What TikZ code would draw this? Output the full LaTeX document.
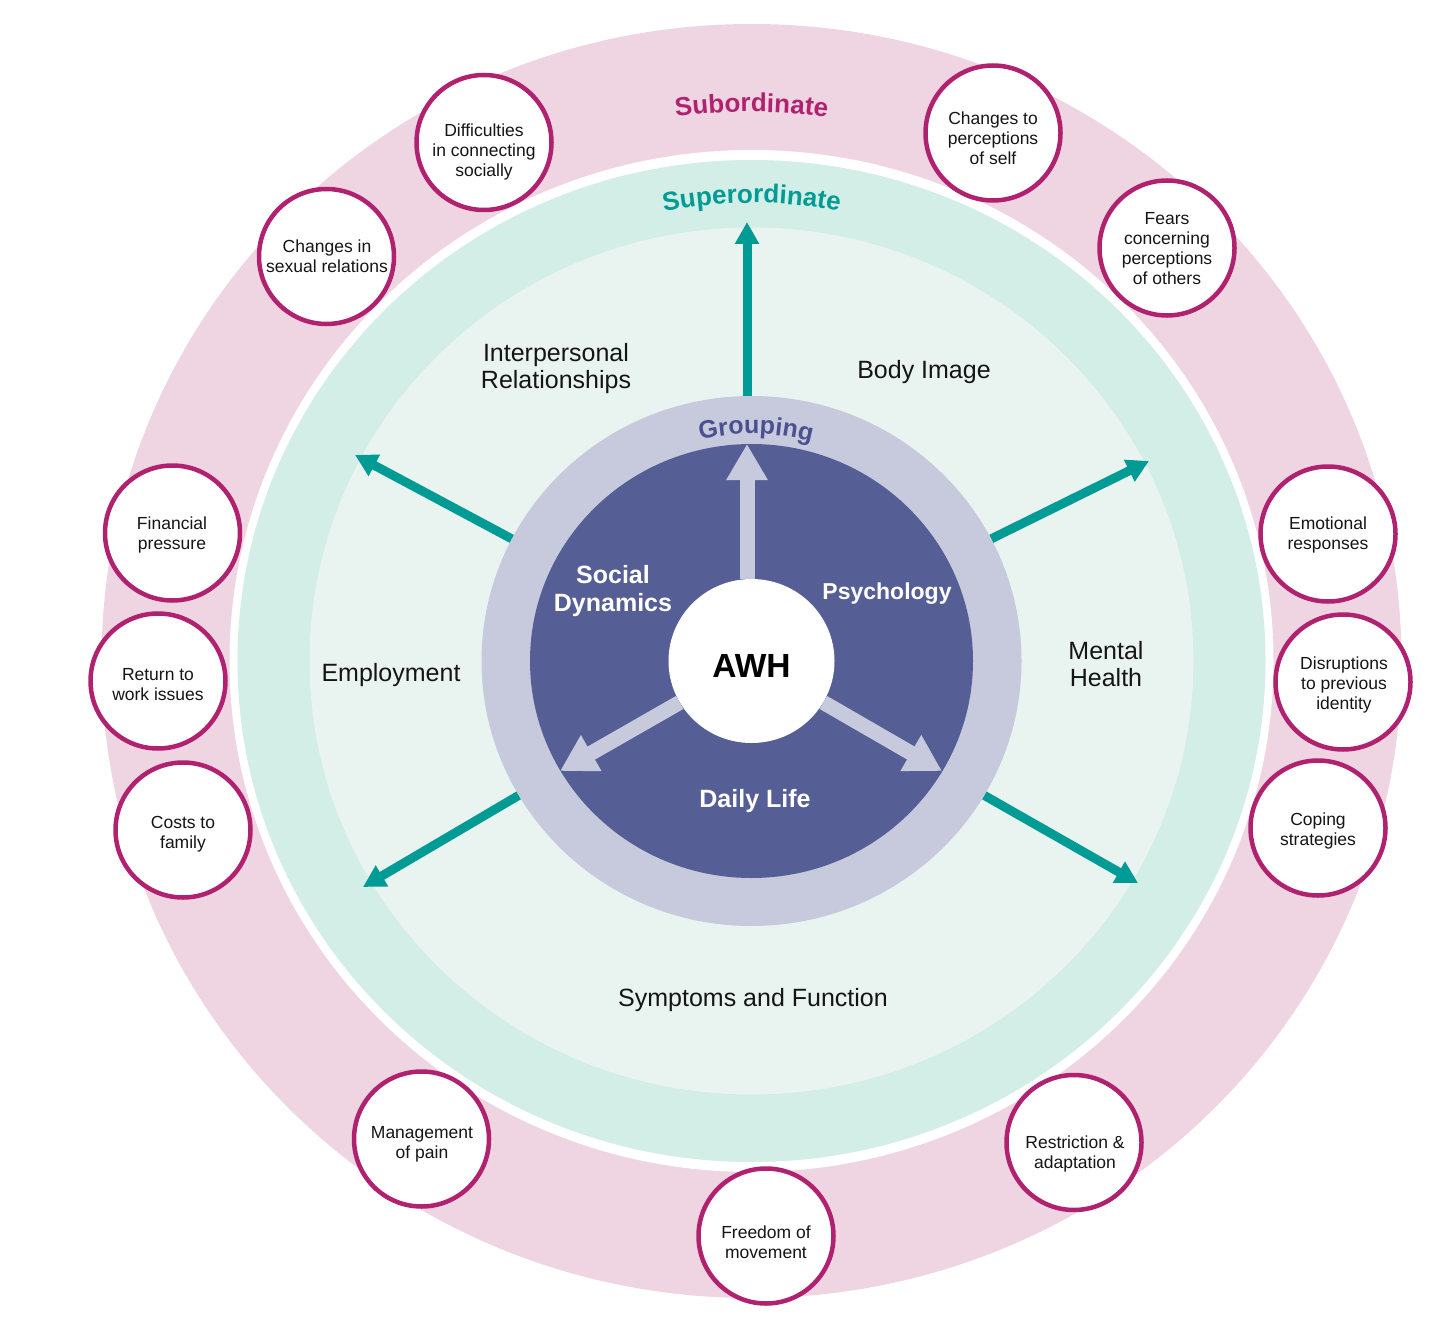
\documentclass[tikz,border=0pt]{standalone}
\usepackage{fontspec}
\setmainfont{Liberation Sans}
\usetikzlibrary{arrows.meta,shapes.geometric,decorations.text}
\definecolor{pinkring}{HTML}{EFD4E2}
\definecolor{magentac}{HTML}{B0216F}
\definecolor{mintc}{HTML}{D3EDE7}
\definecolor{innerc}{HTML}{E9F4F1}
\definecolor{tealc}{HTML}{009B94}
\definecolor{lavc}{HTML}{C7C9DC}
\definecolor{darkc}{HTML}{565E96}
\definecolor{grptext}{HTML}{4B5090}
\definecolor{textc}{HTML}{151515}
\begin{document}
\begin{tikzpicture}[x=1pt,y=1pt,
  ringnode/.style={ellipse, inner sep=0pt, draw=none},
  subnode/.style={circle, draw=magentac, line width=4.5pt, fill=white, minimum size=135pt, inner sep=0pt},
  subtext/.style={align=center, inner sep=0pt, font=\fontsize{17.5}{20}\selectfont, text=textc},
  themelbl/.style={align=center, font=\fontsize{25}{27}\selectfont, text=textc, inner sep=0pt},
  grplbl/.style={align=center, font=\fontsize{25}{27.5}\selectfont\bfseries, text=white, inner sep=0pt},
  tealarrow/.style={draw=tealc, line width=9pt, -{Triangle[width=23pt,length=22pt]}},
  lavarrow/.style={draw=lavc, line width=15pt, -{Triangle[width=39pt,length=36pt]}},
]
\useasboundingbox (0,0) rectangle (1443,-1332);
\fill[white] (0,0) rectangle (1443,-1332);
\coordinate (C) at (751.5,-661);
% rings
\node[ringnode, fill=pinkring, minimum width=1300pt, minimum height=1274pt] (subring) at (C) {};
\node[ringnode, fill=white, minimum width=1044pt, minimum height=1022pt] (gapring) at (C) {};
\node[ringnode, fill=mintc, minimum width=1028pt, minimum height=1002pt] (supring) at (C) {};
\node[ringnode, fill=innerc, minimum width=884pt, minimum height=867pt] (innerring) at (C) {};
\node[ringnode, fill=lavc, minimum width=540pt, minimum height=530pt] (grpring) at (C) {};
\node[ringnode, fill=darkc, minimum width=443pt, minimum height=434pt] (core) at (C) {};
\node[ringnode, fill=white, minimum width=166pt, minimum height=164pt, text height=33pt, text depth=0pt, font=\fontsize{33.5}{33.5}\selectfont\bfseries, text=black] (awh) at (C) {AWH};
% arc titles
\path[decorate, decoration={text along path, text align=center, text={|\fontsize{26}{26}\selectfont\bfseries\color{magentac}|Subordinate}}]
  ([shift={(C)}]150:560 and 549) arc[start angle=150, end angle=30, x radius=560, y radius=549];
\path[decorate, decoration={text along path, text align=center, text={|\fontsize{26}{26}\selectfont\bfseries\color{tealc}|Superordinate}}]
  ([shift={(C)}]150:467 and 458) arc[start angle=150, end angle=30, x radius=467, y radius=458];
\path[decorate, decoration={text along path, text align=center, text={|\fontsize{25}{25}\selectfont\bfseries\color{grptext}|Grouping}}]
  ([shift={(C)}]148.9:232 and 227) arc[start angle=148.9, end angle=28.9, x radius=232, y radius=227];
% teal arrows
\coordinate (tU) at (747,-222);
\coordinate (tUL) at (355,-455);
\coordinate (tUR) at (1149,-461);
\coordinate (tLL) at (363,-887);
\coordinate (tLR) at (1138,-883);
\draw[tealarrow] ([xshift=-4.5pt]grpring.north) -- (tU);
\draw[tealarrow] (grpring.153) -- (tUL);
\draw[tealarrow] (grpring.27) -- (tUR);
\draw[tealarrow] (grpring.210) -- (tLL);
\draw[tealarrow] (grpring.330) -- (tLR);
% lavender arrows
\coordinate (lU) at (747,-444);
\coordinate (lL) at (560,-771);
\coordinate (lR) at (942,-771);
\draw[lavarrow] ([xshift=-4.5pt]awh.north) -- (lU);
\draw[lavarrow] (awh.210) -- (lL);
\draw[lavarrow] (awh.330) -- (lR);
% grouping labels
\node[grplbl] (gSD) at (613,-591) {Social\\Dynamics};
\node[grplbl, font=\fontsize{23}{25}\selectfont\bfseries] (gPs) at (887,-594) {Psychology};
\node[grplbl] (gDL) at (755,-801) {Daily Life};
% superordinate themes
\node[themelbl] (tIR) at (556,-369) {Interpersonal\\Relationships};
\node[themelbl] (tBI) at (924,-372) {Body Image};
\node[themelbl] (tEmp) at (391,-675) {Employment};
\node[themelbl] (tMH) at (1106,-664) {Mental\\Health};
\node[themelbl] (tSF) at (753,-1000) {Symptoms and Function};
% subordinate themes
\node[subnode] (s1) at (484,-142.5) {};
\node[subnode] (s2) at (326.5,-256.5) {};
\node[subnode] (s3) at (172.5,-533) {};
\node[subnode] (s4) at (158,-681) {};
\node[subnode] (s5) at (183,-830) {};
\node[subnode] (s6) at (421.5,-1139) {};
\node[subnode] (s7) at (766,-1236) {};
\node[subnode] (s8) at (1074,-1142.5) {};
\node[subnode] (s9) at (1318,-828) {};
\node[subnode] (s10) at (1343,-682) {};
\node[subnode] (s11) at (1328,-534) {};
\node[subnode] (s12) at (1167,-248) {};
\node[subnode] (s13) at (993,-133) {};
\node[subtext] (s1t) at (484,-151.5) {Difficulties\\in connecting\\socially};
\node[subtext] (s2t) at (327,-256) {Changes in\\sexual relations};
\node[subtext] (s3t) at (172,-535) {Financial\\pressure};
\node[subtext] (s4t) at (158,-685) {Return to\\work issues};
\node[subtext] (s5t) at (183,-834) {Costs to\\family};
\node[subtext] (s6t) at (422,-1144) {Management\\of pain};
\node[subtext] (s7t) at (766,-1242) {Freedom of\\movement};
\node[subtext] (s8t) at (1075,-1154) {Restriction \&\\adaptation};
\node[subtext] (s9t) at (1318,-831) {Coping\\strategies};
\node[subtext] (s10t) at (1344,-685) {Disruptions\\to previous\\identity};
\node[subtext] (s11t) at (1328,-535) {Emotional\\responses};
\node[subtext] (s12t) at (1167,-249) {Fears\\concerning\\perceptions\\of others};
\node[subtext] (s13t) at (993,-138) {Changes to\\perceptions\\of self};
\end{tikzpicture}
\end{document}
